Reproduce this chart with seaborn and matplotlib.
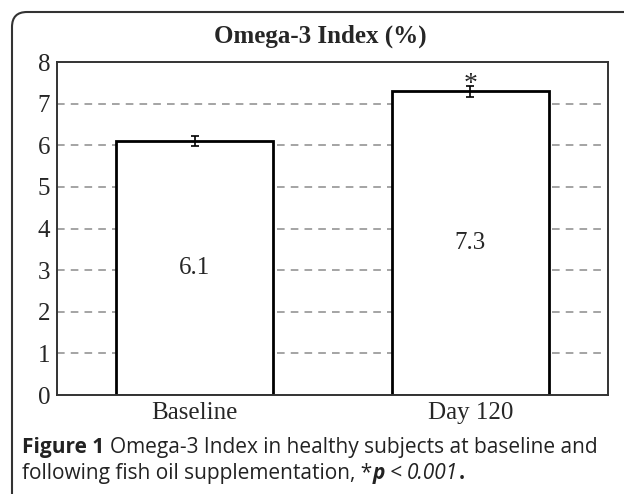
import matplotlib
matplotlib.use('Agg')
import matplotlib.pyplot as plt
import seaborn as sns
from matplotlib.patches import FancyBboxPatch

# chart data
categories = ['Baseline', 'Day 120']
means = [6.1, 7.3]
errors = [0.12, 0.13]
value_labels = ['6.1', '7.3']
markers = ['', '*']
y_ticks = [0, 1, 2, 3, 4, 5, 6, 7, 8]

SERIF = ['Liberation Serif', 'DejaVu Serif']
SANS = ['Open Sans', 'Noto Sans', 'DejaVu Sans']
CAP_COLOR = '#222222'


def put_pieces(fig, x, y, pieces, size):
    # write a caption line piece by piece so each part can carry its own style
    for txt, kw in pieces:
        t = fig.text(x, y, txt, ha='left', va='center', fontsize=size,
                     family=SANS, color=CAP_COLOR, **kw)
        fig.canvas.draw()
        x = t.get_window_extent().x1 / fig.bbox.width


def main():
    sns.set_style('white')
    fig = plt.figure(figsize=(6.24, 4.94), dpi=100)
    ax = fig.add_axes([57 / 624, 1 - 395 / 494, 551 / 624, 333 / 494])

    # dashed gridlines behind bars
    for t in y_ticks[1:-1]:
        ax.axhline(t, color='#8c8c8c', lw=1.1, ls=(0, (5, 4)), zorder=0)

    sns.barplot(x=categories, y=means, color='white', edgecolor='black',
                linewidth=2, width=0.57, ax=ax, zorder=2)
    ax.errorbar(range(len(categories)), means, yerr=errors, fmt='none',
                ecolor='black', elinewidth=1.2, capsize=3, capthick=1.2, zorder=3)

    for i, (m, lab, mk) in enumerate(zip(means, value_labels, markers)):
        ax.text(i, m / 2, lab, ha='center', va='center', fontsize=18,
                family=SERIF, zorder=4)
        if mk:
            ax.text(i, m + errors[i] - 0.26, mk, ha='center', va='bottom',
                    fontsize=20, family=SERIF, zorder=4)

    ax.set_ylim(0, 8)
    ax.set_yticks(y_ticks)
    ax.set_xlim(-0.5, 1.5)
    ax.tick_params(axis='both', length=0, pad=5, labelsize=18)
    for lab in ax.get_xticklabels() + ax.get_yticklabels():
        lab.set_family(SERIF)
    ax.set_xlabel('')
    ax.set_ylabel('')
    for sp in ax.spines.values():
        sp.set_visible(True)
        sp.set_color('#333333')
        sp.set_linewidth(1.4)

    fig.text(320 / 624, 1 - 36 / 494, 'Omega-3 Index (%)', ha='center', va='center',
             fontsize=18, fontweight='bold', family=SERIF)

    # caption
    y1 = 1 - 447 / 494
    y2 = 1 - 473 / 494
    x0 = 22 / 624
    put_pieces(fig, x0, y1, [
        ('Figure 1 ', dict(fontweight='bold')),
        ('Omega-3 Index in healthy subjects at baseline and', dict(fontweight='medium')),
    ], 15)
    put_pieces(fig, x0, y2, [
        ('following fish oil supplementation, *', dict(fontweight='medium')),
        ('p', dict(fontweight='bold', style='italic')),
        (' < ', dict(fontweight='medium')),
        ('0.001', dict(fontweight='medium', style='italic')),
        ('.', dict(fontweight='bold')),
    ], 15)

    # rounded frame around the figure, clipped at right and bottom
    frame = FancyBboxPatch((0.12, -0.6), 7.0, 4.82 + 0.6,
                           boxstyle='round,pad=0,rounding_size=0.15',
                           transform=fig.dpi_scale_trans, fill=False,
                           edgecolor='#333333', linewidth=1.5)
    fig.patches.append(frame)

    fig.savefig('out.png', dpi=100)


if __name__ == '__main__':
    main()
